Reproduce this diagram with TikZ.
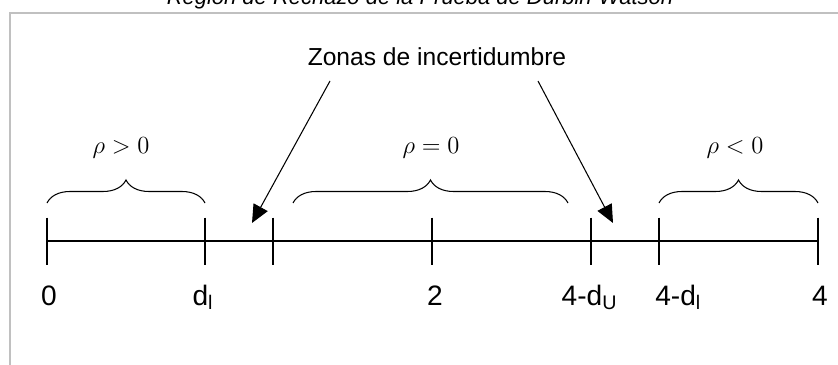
\RequirePackage{fix-cm}
\documentclass[tikz,border=0pt]{standalone}
\usepackage{fontspec}
\newfontfamily\arialsans{Liberation Sans}
\usepackage{xcolor}
\usetikzlibrary{positioning, calc, arrows.meta, decorations.pathreplacing}

\definecolor{framegray}{RGB}{192,192,192}

\tikzset{
  axisline/.style={line width=0.7pt},
  regionbrace/.style={decorate, decoration={brace, amplitude=0.46cm}, line width=0.6pt},
  zonearrow/.style={-{Triangle[length=0.36cm, width=0.32cm]}, line width=0.6pt},
  numlabel/.style={anchor=base, inner sep=0pt, font=\arialsans\fontsize{16}{18}\selectfont},
  rholabel/.style={inner sep=0pt, font=\fontsize{14}{16}\selectfont},
}

\begin{document}
\begin{tikzpicture}
            \useasboundingbox (-0.94,-2.48) rectangle (15.82,4.82);

            % frame and title
            \draw[framegray, line width=1.1pt] (-0.74,-2.6) -- (-0.74,4.56) -- (16,4.56);
            \node[anchor=base, inner sep=0pt, font=\arialsans\itshape\fontsize{12.5}{14}\selectfont] (title) at (7.46,4.72) {Región de Rechazo de la Prueba de Durbin-Watson};

            % axis points
            \coordinate (D0) at (0,0);
            \coordinate (DL) at (3.16,0);
            \coordinate (DU) at (4.52,0);
            \coordinate (D2) at (7.70,0);
            \coordinate (DUb) at (10.88,0);
            \coordinate (DLb) at (12.24,0);
            \coordinate (D4) at (15.42,0);

            \draw[axisline] (D0) -- (D4);
            \draw[axisline] (D0) +(0,0.47) -- +(0,-0.47);
            \draw[axisline] (DL) +(0,0.47) -- +(0,-0.47);
            \draw[axisline] (DU) +(0,0.47) -- +(0,-0.47);
            \draw[axisline] (D2) +(0,0.47) -- +(0,-0.47);
            \draw[axisline] (DUb) +(0,0.47) -- +(0,-0.47);
            \draw[axisline] (DLb) +(0,0.47) -- +(0,-0.47);
            \draw[axisline] (D4) +(0,0.47) -- +(0,-0.47);

            % labels under the axis
            \node[numlabel] (l0) at (0.04,-1.28) {0};
            \node[numlabel] (lL) at (3.12,-1.28) {d\textsubscript{l}};
            \node[numlabel] (l2) at (7.76,-1.28) {2};
            \node[numlabel] (lUb) at (10.85,-1.28) {4-d\textsubscript{U}};
            \node[numlabel, anchor=base west] (lLb) at (12.16,-1.28) {4-d\textsubscript{l}};
            \node[numlabel] (l4) at (15.46,-1.28) {4};

            % regions
            \draw[regionbrace] (0,0.76) -- (3.16,0.76);
            \draw[regionbrace] (4.92,0.76) -- (10.42,0.76);
            \draw[regionbrace] (12.24,0.76) -- (15.42,0.76);

            \node[rholabel] (rpos) at (1.48,1.86) {$\rho > 0$};
            \node[rholabel] (rzero) at (7.68,1.86) {$\rho = 0$};
            \node[rholabel] (rneg) at (13.76,1.86) {$\rho < 0$};

            % uncertainty zones
            \node[inner sep=0pt, font=\arialsans\fontsize{14}{16}\selectfont] (zonas) at (7.80,3.68) {Zonas de incertidumbre};
            \coordinate (zl) at (5.66,3.20);
            \coordinate (zr) at (9.82,3.20);
            \coordinate (tl) at (4.10,0.36);
            \coordinate (tr) at (11.32,0.36);
            \draw[zonearrow] (zl) -- (tl);
            \draw[zonearrow] (zr) -- (tr);
\end{tikzpicture}
\end{document}
